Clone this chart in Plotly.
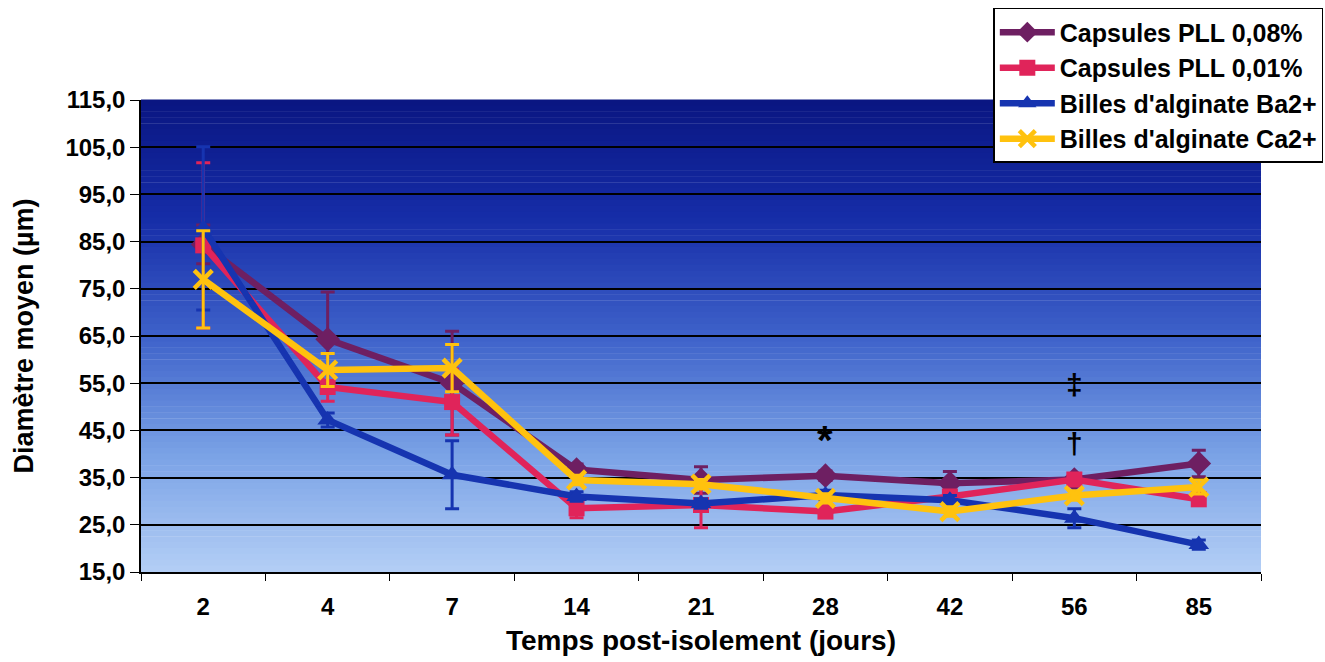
import plotly.graph_objects as go

days = ["2", "4", "7", "14", "21", "28", "42", "56", "85"]

names = ["Capsules PLL 0,08%", "Capsules PLL 0,01%",
         "Billes d'alginate Ba2+", "Billes d'alginate Ca2+"]

pll008 = [84.4, 64.3, 55.0, 36.7, 34.5, 35.4, 33.8, 34.6, 38.0]
pll008_err = [4.1, 10.0, 11.0, 1.2, 2.8, 1.0, 2.5, 1.0, 2.8]

pll001 = [84.2, 54.2, 51.0, 28.5, 29.2, 27.8, 31.0, 34.6, 30.4]
pll001_err = [17.5, 3.0, 7.0, 2.0, 4.8, 1.0, 1.0, 1.0, 1.0]

ba = [87.8, 47.2, 35.6, 31.0, 29.5, 31.3, 30.2, 26.4, 20.8]
ba_err = [17.3, 1.5, 7.2, 1.0, 1.0, 1.0, 1.0, 2.0, 1.0]

ca = [77.0, 57.8, 58.2, 34.5, 33.6, 30.6, 27.8, 31.2, 33.0]
ca_err = [10.3, 3.5, 5.0, 1.0, 1.0, 1.0, 1.0, 1.0, 1.5]

y_ticks = [15, 25, 35, 45, 55, 65, 75, 85, 95, 105, 115]
y_tick_labels = ["15,0", "25,0", "35,0", "45,0", "55,0", "65,0", "75,0",
                 "85,0", "95,0", "105,0", "115,0"]

marks = [("28", 43.0, "*", 40), ("56", 42.3, "†", 30), ("56", 54.8, "‡", 30)]

series = [
    (pll008, pll008_err, "#6e1f62", "diamond", 19),
    (pll001, pll001_err, "#e0245a", "square", 16),
    (ba, ba_err, "#1634b0", "triangle-up", 18),
    (ca, ca_err, "#ffc20e", "x-thin", 18),
]

fig = go.Figure()

# gradient plot background
stops = [(0.0, (10, 22, 130)), (0.25, (22, 45, 168)), (0.5, (62, 98, 202)),
         (0.75, (122, 162, 230)), (1.0, (180, 207, 246))]
n = 80
for i in range(n):
    t = (i + 0.5) / n  # 0 at top
    for k in range(len(stops) - 1):
        if stops[k][0] <= t <= stops[k + 1][0]:
            a, ca0 = stops[k]
            b, cb0 = stops[k + 1]
            f = (t - a) / (b - a)
            c = tuple(int(ca0[j] + (cb0[j] - ca0[j]) * f) for j in range(3))
            break
    fig.add_shape(type="rect", xref="paper", yref="paper",
                  x0=0, x1=1, y0=1 - (i + 1) / n, y1=1 - i / n + 0.001,
                  fillcolor="rgb(%d,%d,%d)" % c, line=dict(width=0),
                  layer="below")

for (vals, errs, col, sym, sz), nm in zip(series, names):
    marker = dict(symbol=sym, size=sz, color=col)
    if sym == "x-thin":
        marker["line"] = dict(color=col, width=4.5)
    fig.add_trace(go.Scatter(
        x=days, y=vals, name=nm, mode="lines+markers",
        line=dict(color=col, width=6.5),
        marker=marker,
        error_y=dict(type="data", array=errs, visible=True, color=col,
                     thickness=3, width=7),
    ))

for x, y, s, fs in marks:
    fig.add_annotation(x=days.index(x), y=y, text=s, showarrow=False,
                       font=dict(size=fs, color="black", weight="bold",
                                 family="Liberation Sans"))

fig.update_layout(
    width=1325, height=662,
    margin=dict(l=141, r=64, t=100, b=90, autoexpand=False),
    paper_bgcolor="white",
    plot_bgcolor="rgba(0,0,0,0)",
    font=dict(family="Liberation Sans, Arial", color="black"),
    legend=dict(x=0.761, y=1.195, xanchor="left", yanchor="top",
                bgcolor="white", bordercolor="black", borderwidth=1.5,
                font=dict(size=25, weight="bold"), tracegroupgap=0,
                itemwidth=55),
    showlegend=True,
)

fig.update_xaxes(
    type="category", range=[-0.5, 8.5],
    showline=True, linecolor="black", linewidth=1.5,
    ticks="outside", tickson="boundaries", ticklen=7, tickcolor="black",
    tickfont=dict(size=24, weight="bold"), ticklabelstandoff=12,
    title=dict(text="Temps post-isolement (jours)",
               font=dict(size=28, weight="bold"), standoff=12),
    showgrid=False, zeroline=False,
)
fig.update_yaxes(
    range=[15, 115], tickvals=y_ticks, ticktext=y_tick_labels,
    showline=True, linecolor="black", linewidth=1.5,
    ticks="outside", ticklen=9, tickcolor="black",
    tickfont=dict(size=24, weight="bold"),
    showgrid=True, gridcolor="black", gridwidth=1.5,
    title=dict(text="Diamètre moyen (µm)", font=dict(size=27, weight="bold"),
               standoff=24),
    zeroline=False,
)

fig.write_html("out.html")
